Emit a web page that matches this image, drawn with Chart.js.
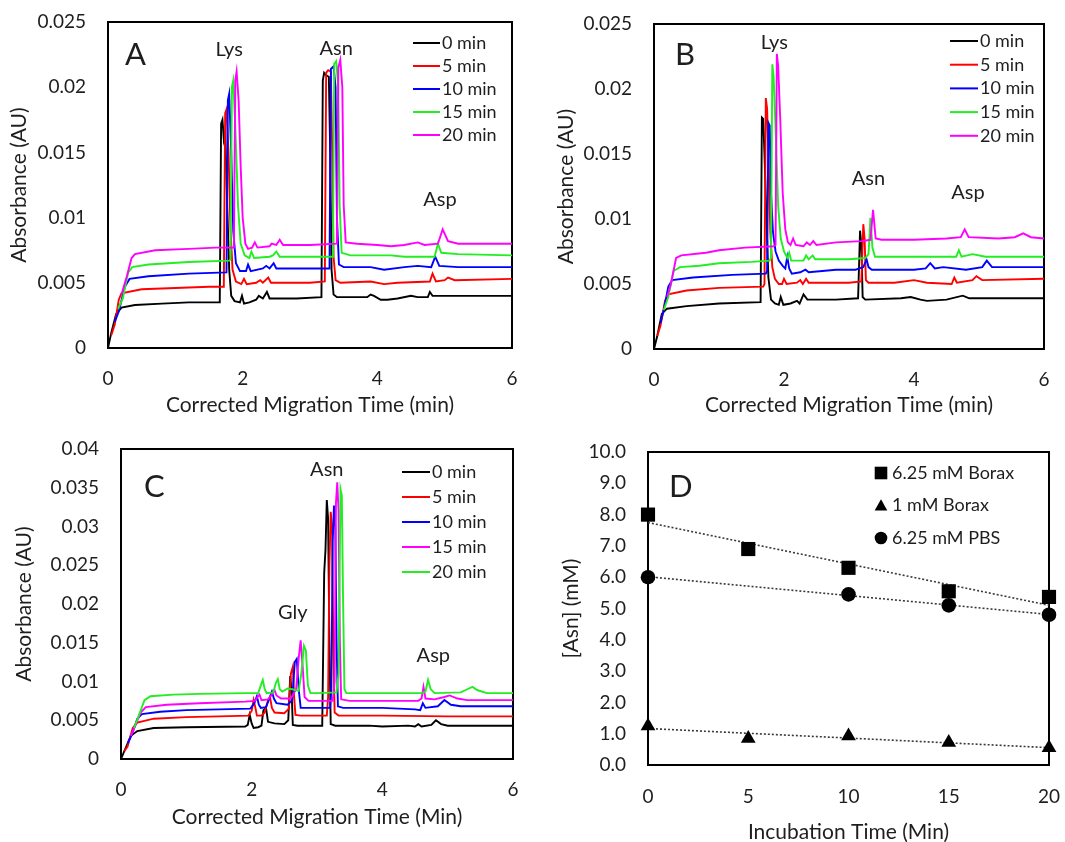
<!DOCTYPE html>
<html>
<head>
<meta charset="utf-8">
<title>Asn deamidation electropherograms</title>
<script src="https://cdn.jsdelivr.net/npm/chart.js"></script>
<style>
  body { margin: 0; background: #fff; }
  #wrap { position: relative; width: 1065px; height: 842px; overflow: hidden; }
  canvas { position: absolute; }
</style>
</head>
<body>
<div id="wrap">
  <canvas id="panelA" width="530" height="420" style="left:0;top:0"></canvas>
  <canvas id="panelB" width="535" height="420" style="left:530px;top:0"></canvas>
  <canvas id="panelC" width="530" height="422" style="left:0;top:420px"></canvas>
  <canvas id="panelD" width="535" height="422" style="left:530px;top:420px"></canvas>
</div>
<script>
// ---- data: [migration time (min), absorbance (AU)] ----
const runLabels = ['0 min', '5 min', '10 min', '15 min', '20 min'];

// A: 6.25 mM borax
const a0 = [[0,0],[0.05,0.0012],[0.12,0.0026],[0.2,0.0031],[0.4,0.0033],[0.8,0.0034],[1.2,0.0035],[1.66,0.0035],[1.68,0.0172],[1.70,0.0175],[1.72,0.0160],[1.74,0.0165],[1.77,0.0110],[1.80,0.0060],[1.83,0.0040],[1.88,0.0036],[1.96,0.0035],[1.99,0.0040],[2.02,0.0034],[2.1,0.0035],[2.2,0.0037],[2.24,0.0040],[2.3,0.0038],[2.36,0.0043],[2.4,0.0038],[2.8,0.0038],[3.17,0.0039],[3.19,0.0205],[3.21,0.0211],[3.24,0.0209],[3.28,0.0208],[3.30,0.0150],[3.32,0.0060],[3.35,0.0041],[3.4,0.0039],[3.85,0.0039],[3.9,0.0041],[3.95,0.0040],[4.05,0.0037],[4.15,0.0037],[4.3,0.0038],[4.5,0.0040],[4.6,0.0039],[4.75,0.0039],[4.78,0.0043],[4.82,0.0040],[5.2,0.0040],[6,0.0040]];
const a5 = [[0.05,0.0010],[0.1,0.0018],[0.16,0.0037],[0.2,0.0042],[0.5,0.0045],[1.0,0.0046],[1.5,0.0047],[1.72,0.0047],[1.74,0.0180],[1.76,0.0183],[1.79,0.0150],[1.82,0.0090],[1.85,0.0060],[1.9,0.0051],[1.98,0.0049],[2.02,0.0053],[2.06,0.0049],[2.2,0.0050],[2.26,0.0052],[2.3,0.0050],[2.38,0.0054],[2.42,0.0050],[3.0,0.0050],[3.22,0.0051],[3.24,0.0211],[3.27,0.0213],[3.31,0.0212],[3.33,0.0150],[3.35,0.0070],[3.38,0.0052],[3.45,0.0050],[3.9,0.0051],[4.1,0.0049],[4.3,0.0050],[4.78,0.0051],[4.82,0.0057],[4.87,0.0051],[5.0,0.0052],[5.05,0.0054],[5.15,0.0052],[6.0,0.0053]];
const a10 = [[0.1,0.0020],[0.16,0.0028],[0.25,0.0047],[0.32,0.0053],[0.6,0.0055],[1.2,0.0057],[1.76,0.0058],[1.78,0.0190],[1.80,0.0195],[1.83,0.0150],[1.86,0.0090],[1.9,0.0065],[1.96,0.0059],[2.05,0.0059],[2.08,0.0064],[2.12,0.0059],[2.3,0.0061],[2.35,0.0063],[2.4,0.0061],[2.46,0.0065],[2.5,0.0061],[3.0,0.0061],[3.29,0.0061],[3.31,0.0214],[3.35,0.0216],[3.38,0.0200],[3.40,0.0100],[3.43,0.0064],[3.5,0.0062],[3.9,0.0062],[4.1,0.0060],[4.4,0.0062],[4.6,0.0063],[4.8,0.0062],[4.86,0.0070],[4.92,0.0063],[5.2,0.0062],[6.0,0.0062]];
const a15 = [[0.15,0.0030],[0.22,0.0038],[0.3,0.0058],[0.36,0.0062],[0.6,0.0064],[1.2,0.0066],[1.8,0.0067],[1.82,0.0068],[1.84,0.0200],[1.86,0.0205],[1.89,0.0170],[1.93,0.0110],[1.97,0.0080],[2.03,0.0071],[2.1,0.0069],[2.13,0.0074],[2.17,0.0069],[2.4,0.0070],[2.45,0.0071],[2.5,0.0074],[2.55,0.0070],[3.0,0.0070],[3.34,0.0070],[3.36,0.0218],[3.39,0.0220],[3.42,0.0200],[3.44,0.0110],[3.47,0.0073],[3.6,0.0071],[4.2,0.0071],[4.4,0.0070],[4.85,0.0070],[4.9,0.0080],[4.95,0.0073],[5.2,0.0072],[6.0,0.0071]];
const a20 = [[0.2,0.0041],[0.28,0.0055],[0.35,0.0069],[0.4,0.0072],[0.7,0.0075],[1.2,0.0076],[1.6,0.0077],[1.87,0.0077],[1.89,0.0205],[1.91,0.0212],[1.94,0.0190],[1.97,0.0140],[2.0,0.0100],[2.04,0.0080],[2.08,0.0076],[2.14,0.0077],[2.18,0.0081],[2.22,0.0077],[2.4,0.0078],[2.43,0.0080],[2.5,0.0079],[2.55,0.0083],[2.6,0.0079],[3.0,0.0079],[3.4,0.0080],[3.42,0.0215],[3.45,0.0221],[3.48,0.0200],[3.50,0.0110],[3.53,0.0081],[3.7,0.0080],[4.0,0.0079],[4.2,0.0078],[4.4,0.0079],[4.6,0.0081],[4.7,0.0079],[4.9,0.0080],[4.97,0.0091],[5.05,0.0082],[5.2,0.0080],[6.0,0.0080]];

// B: 1 mM borax
const b0 = [[0,0],[0.05,0.0010],[0.12,0.0027],[0.2,0.0031],[0.5,0.0033],[1.0,0.0035],[1.64,0.0036],[1.66,0.0178],[1.68,0.0177],[1.70,0.0150],[1.73,0.0100],[1.76,0.0055],[1.80,0.0038],[1.86,0.0035],[1.92,0.0034],[1.95,0.0040],[1.99,0.0034],[2.1,0.0035],[2.2,0.0037],[2.24,0.0035],[2.3,0.0042],[2.36,0.0038],[2.8,0.0038],[3.14,0.0039],[3.17,0.0091],[3.19,0.0080],[3.21,0.0040],[3.25,0.0038],[3.8,0.0039],[3.95,0.0040],[4.1,0.0038],[4.2,0.0037],[4.5,0.0038],[4.75,0.0041],[4.85,0.0039],[6.0,0.0039]];
const b5 = [[0.05,0.0010],[0.1,0.0018],[0.17,0.0037],[0.22,0.0042],[0.5,0.0045],[1.0,0.0047],[1.68,0.0048],[1.70,0.0050],[1.72,0.0193],[1.74,0.0185],[1.76,0.0150],[1.79,0.0090],[1.82,0.0063],[1.86,0.0054],[1.92,0.0050],[1.97,0.0050],[2.0,0.0054],[2.04,0.0050],[2.2,0.0051],[2.25,0.0053],[2.29,0.0050],[2.34,0.0054],[2.38,0.0051],[3.0,0.0051],[3.19,0.0052],[3.22,0.0096],[3.24,0.0085],[3.26,0.0053],[3.3,0.0051],[3.7,0.0051],[4.0,0.0053],[4.2,0.0051],[4.58,0.0050],[4.62,0.0055],[4.66,0.0051],[4.9,0.0053],[4.96,0.0056],[5.05,0.0053],[6.0,0.0054]];
const b10 = [[0.1,0.0020],[0.15,0.0030],[0.22,0.0048],[0.28,0.0053],[0.6,0.0055],[1.2,0.0057],[1.72,0.0058],[1.74,0.0060],[1.76,0.0174],[1.78,0.0172],[1.80,0.0120],[1.83,0.0090],[1.87,0.0075],[1.92,0.0068],[1.98,0.0064],[2.02,0.0062],[2.05,0.0071],[2.08,0.0062],[2.12,0.0058],[2.25,0.0059],[2.33,0.0061],[2.38,0.0059],[2.8,0.0061],[3.1,0.0061],[3.22,0.0063],[3.27,0.0069],[3.3,0.0063],[3.35,0.0061],[4.0,0.0061],[4.18,0.0062],[4.25,0.0066],[4.32,0.0062],[4.45,0.0063],[4.8,0.0061],[5.05,0.0063],[5.12,0.0068],[5.2,0.0063],[6.0,0.0063]];
const b15 = [[0.15,0.0030],[0.22,0.0040],[0.3,0.0060],[0.4,0.0063],[0.7,0.0064],[1.0,0.0066],[1.5,0.0067],[1.78,0.0068],[1.80,0.0070],[1.82,0.0219],[1.84,0.0210],[1.87,0.0170],[1.91,0.0110],[1.95,0.0085],[2.0,0.0075],[2.05,0.0070],[2.08,0.0074],[2.11,0.0068],[2.3,0.0068],[2.34,0.0072],[2.38,0.0069],[2.44,0.0072],[2.48,0.0069],[3.0,0.0069],[3.25,0.0070],[3.3,0.0073],[3.33,0.0101],[3.36,0.0078],[3.4,0.0071],[4.0,0.0071],[4.65,0.0071],[4.69,0.0076],[4.73,0.0071],[4.9,0.0073],[5.1,0.0071],[6.0,0.0071]];
const b20 = [[0.2,0.0040],[0.26,0.0050],[0.34,0.0070],[0.42,0.0072],[0.8,0.0074],[1.0,0.0076],[1.4,0.0078],[1.84,0.0079],[1.87,0.0080],[1.89,0.0227],[1.91,0.0218],[1.94,0.0180],[1.98,0.0120],[2.02,0.0092],[2.06,0.0082],[2.1,0.0080],[2.14,0.0085],[2.18,0.0080],[2.3,0.0079],[2.35,0.0082],[2.4,0.0080],[2.45,0.0083],[2.5,0.0080],[2.8,0.0082],[3.2,0.0083],[3.33,0.0084],[3.37,0.0107],[3.41,0.0085],[3.5,0.0084],[4.0,0.0084],[4.5,0.0085],[4.72,0.0086],[4.78,0.0092],[4.84,0.0086],[5.3,0.0085],[5.55,0.0086],[5.68,0.0089],[5.8,0.0086],[6.0,0.0085]];

// C: 6.25 mM PBS
const c0 = [[0,0],[0.05,0.0010],[0.15,0.0030],[0.25,0.0036],[0.5,0.0040],[1.0,0.0041],[1.9,0.0042],[1.94,0.0044],[1.97,0.0057],[2.0,0.0046],[2.03,0.0040],[2.1,0.0041],[2.15,0.0043],[2.18,0.0063],[2.22,0.0066],[2.25,0.0048],[2.35,0.0046],[2.5,0.0045],[2.56,0.0050],[2.59,0.0107],[2.61,0.0090],[2.63,0.0044],[2.7,0.0043],[3.08,0.0043],[3.11,0.0240],[3.13,0.0270],[3.15,0.0334],[3.17,0.0310],[3.19,0.0150],[3.21,0.0045],[3.28,0.0043],[3.8,0.0043],[4.0,0.0042],[4.4,0.0043],[4.5,0.0042],[4.55,0.0045],[4.6,0.0042],[4.75,0.0044],[4.82,0.0050],[4.9,0.0045],[5.0,0.0043],[6.0,0.0043]];
const c5 = [[0.05,0.0010],[0.1,0.0016],[0.18,0.0040],[0.25,0.0047],[0.5,0.0052],[1.0,0.0054],[1.5,0.0055],[1.95,0.0056],[2.0,0.0062],[2.03,0.0076],[2.06,0.0065],[2.08,0.0056],[2.15,0.0056],[2.2,0.0060],[2.25,0.0076],[2.28,0.0080],[2.31,0.0066],[2.35,0.0060],[2.5,0.0059],[2.57,0.0065],[2.60,0.0110],[2.63,0.0119],[2.65,0.0080],[2.67,0.0057],[2.75,0.0056],[3.15,0.0056],[3.17,0.0080],[3.19,0.0250],[3.21,0.0319],[3.23,0.0300],[3.25,0.0150],[3.27,0.0060],[3.33,0.0056],[4.0,0.0056],[5.0,0.0055],[6.0,0.0055]];
const c10 = [[0.1,0.0020],[0.16,0.0030],[0.25,0.0052],[0.32,0.0058],[0.6,0.0061],[1.0,0.0063],[1.5,0.0064],[1.98,0.0065],[2.04,0.0072],[2.08,0.0081],[2.11,0.0070],[2.14,0.0066],[2.22,0.0067],[2.27,0.0078],[2.31,0.0087],[2.34,0.0078],[2.38,0.0072],[2.55,0.0070],[2.62,0.0076],[2.66,0.0125],[2.69,0.0129],[2.72,0.0090],[2.75,0.0066],[2.85,0.0066],[3.2,0.0066],[3.22,0.0090],[3.24,0.0280],[3.26,0.0327],[3.28,0.0300],[3.30,0.0150],[3.32,0.0068],[3.4,0.0066],[4.0,0.0066],[4.5,0.0064],[4.58,0.0063],[4.62,0.0072],[4.66,0.0066],[4.85,0.0068],[4.95,0.0076],[5.05,0.0070],[5.2,0.0068],[6.0,0.0068]];
const c15 = [[0.15,0.0030],[0.22,0.0043],[0.3,0.0060],[0.38,0.0067],[0.7,0.0070],[1.2,0.0072],[1.9,0.0074],[2.05,0.0075],[2.09,0.0080],[2.12,0.0083],[2.15,0.0076],[2.25,0.0077],[2.3,0.0082],[2.35,0.0089],[2.38,0.0082],[2.45,0.0078],[2.6,0.0078],[2.68,0.0090],[2.72,0.0130],[2.75,0.0153],[2.78,0.0120],[2.81,0.0080],[2.87,0.0075],[3.24,0.0075],[3.27,0.0100],[3.29,0.0330],[3.31,0.0357],[3.33,0.0320],[3.35,0.0150],[3.37,0.0077],[3.5,0.0075],[4.0,0.0075],[4.55,0.0075],[4.6,0.0078],[4.63,0.0093],[4.66,0.0078],[4.8,0.0077],[4.95,0.0080],[5.03,0.0082],[5.15,0.0078],[5.3,0.0076],[6.0,0.0076]];
const c20 = [[0.2,0.0040],[0.28,0.0058],[0.36,0.0076],[0.45,0.0081],[0.8,0.0083],[1.2,0.0084],[1.9,0.0085],[2.1,0.0085],[2.14,0.0095],[2.17,0.0102],[2.2,0.0090],[2.23,0.0085],[2.33,0.0086],[2.37,0.0098],[2.4,0.0103],[2.43,0.0090],[2.47,0.0087],[2.55,0.0091],[2.62,0.0090],[2.72,0.0088],[2.76,0.0110],[2.80,0.0146],[2.83,0.0140],[2.86,0.0095],[2.9,0.0085],[3.0,0.0085],[3.3,0.0086],[3.33,0.0110],[3.36,0.0348],[3.38,0.0340],[3.40,0.0200],[3.42,0.0090],[3.45,0.0085],[4.0,0.0085],[4.6,0.0085],[4.66,0.0087],[4.7,0.0102],[4.74,0.0090],[4.8,0.0085],[5.2,0.0086],[5.3,0.0090],[5.38,0.0093],[5.45,0.0089],[5.6,0.0085],[6.0,0.0085]];

// D: Asn remaining vs incubation time
const incubation = [0, 5, 10, 15, 20];
const boraxHigh = [8.0, 6.9, 6.3, 5.55, 5.37];
const boraxLow = [1.25, 0.85, 0.93, 0.72, 0.55];
const pbs = [6.0, null, 5.45, 5.1, 4.8];
const seriesD = ['6.25 mM Borax', '1 mM Borax', '6.25 mM PBS'];

const BLACK = '#000000', RED = '#ff0000', BLUE = '#0000ff', GREEN = '#22ee22', MAGENTA = '#ff00ff';
const TEXT = '#1e1e1e';
const FONT = "Lato, 'Open Sans', sans-serif";
const TITLE_SIZE = 21;

Chart.defaults.font.family = FONT;
Chart.defaults.color = TEXT;
Chart.defaults.animation = false;

// frame around the plot area
const framePlugin = {
  id: 'frame',
  beforeDatasetsDraw(chart) {
    const {ctx, chartArea: a} = chart;
    ctx.save();
    ctx.strokeStyle = '#000';
    ctx.lineWidth = 2;
    ctx.strokeRect(a.left, a.top, a.right - a.left, a.bottom - a.top);
    ctx.restore();
  }
};

// panel letter, peak names and the in-plot legend
const panelText = {
  id: 'panelText',
  afterDraw(chart, args, opts) {
    const {ctx, scales} = chart;
    ctx.save();
    ctx.fillStyle = TEXT;
    ctx.font = '31px ' + FONT;
    ctx.textAlign = 'left';
    ctx.textBaseline = 'alphabetic';
    ctx.fillText(opts.letter.text, opts.letter.x, opts.letter.y);

    ctx.font = '20px ' + FONT;
    ctx.textAlign = 'center';
    ctx.textBaseline = 'middle';
    (opts.peaks || []).forEach(p => {
      ctx.fillText(p.text, scales.x.getPixelForValue(p.x), scales.y.getPixelForValue(p.y));
    });

    const lg = opts.legend;
    ctx.font = '18px ' + FONT;
    ctx.textAlign = 'left';
    chart.data.datasets.filter(d => !d.trend).forEach((d, i) => {
      const y = lg.y + i * lg.gap;
      if (lg.kind === 'marker') {
        ctx.fillStyle = '#000';
        const cx = lg.x, r = 6.3;
        ctx.beginPath();
        if (d.pointStyle === 'rect') ctx.rect(cx - r, y - r, 2 * r, 2 * r);
        else if (d.pointStyle === 'triangle') {
          ctx.moveTo(cx, y - r);
          ctx.lineTo(cx + r, y + r * 0.8);
          ctx.lineTo(cx - r, y + r * 0.8);
          ctx.closePath();
        } else ctx.arc(cx, y, r, 0, Math.PI * 2);
        ctx.fill();
        ctx.fillStyle = TEXT;
        ctx.fillText(d.label, lg.x + lg.len, y);
      } else {
        ctx.strokeStyle = d.borderColor;
        ctx.lineWidth = 2;
        ctx.beginPath();
        ctx.moveTo(lg.x, y);
        ctx.lineTo(lg.x + lg.len, y);
        ctx.stroke();
        ctx.fillStyle = TEXT;
        ctx.fillText(d.label, lg.x + lg.len + 2, y);
      }
    });
    ctx.restore();
  }
};

const absFormat = v => v === 0 ? '0' : String(+v.toFixed(3));

// fixed axis boxes so the plot areas line up; tick padding must not push the plot area
const fixY = w => s => { s.width = w; s.paddingTop = 0; s.paddingBottom = 0; };
const fixX = h => s => { s.height = h; s.paddingLeft = 0; s.paddingRight = 0; };

function traceChart(id, traces, colors, yMax, yStep, box, text) {
  return new Chart(document.getElementById(id), {
    type: 'line',
    data: {
      datasets: traces.map((t, i) => ({
        label: runLabels[i],
        data: t,
        borderColor: colors[i],
        borderWidth: 1.9,
        pointRadius: 0,
        tension: 0,
        order: traces.length - i
      }))
    },
    options: {
      responsive: false,
      devicePixelRatio: 1,
      layout: {padding: {left: 0, top: box.top, right: box.right, bottom: 0}},
      plugins: {legend: {display: false}, tooltip: {enabled: false}, panelText: text},
      scales: {
        x: {
          type: 'linear', min: 0, max: 6,
          grid: {display: false, drawTicks: false}, border: {display: false},
          ticks: {stepSize: 2, padding: 19, font: {size: 19}, color: TEXT, maxRotation: 0},
          title: {display: true, text: box.xTitle, font: {size: TITLE_SIZE}, color: TEXT, padding: {top: 0, bottom: box.xTitlePad}},
          afterFit: fixX(box.xHeight)
        },
        y: {
          min: 0, max: yMax,
          grid: {display: false, drawTicks: false}, border: {display: false},
          ticks: {stepSize: yStep, padding: 22, font: {size: 19}, color: TEXT, callback: absFormat},
          title: {display: true, text: 'Absorbance (AU)', font: {size: TITLE_SIZE}, color: TEXT, padding: {top: box.yTitlePad, bottom: 0}},
          afterFit: fixY(box.yWidth)
        }
      }
    },
    plugins: [framePlugin, panelText]
  });
}

traceChart('panelA', [a0, a5, a10, a15, a20], [BLACK, RED, BLUE, GREEN, MAGENTA], 0.025, 0.005,
  {top: 22, right: 18, yWidth: 108, xHeight: 72, yTitlePad: 7, xTitlePad: 2, xTitle: 'Corrected Migration Time (min)'},
  {letter: {text: 'A', x: 125, y: 65},
   peaks: [{text: 'Lys', x: 1.80, y: 0.0229}, {text: 'Asn', x: 3.39, y: 0.0230}, {text: 'Asp', x: 4.93, y: 0.01135}],
   legend: {x: 413, y: 43, gap: 23, len: 27}});

traceChart('panelB', [b0, b5, b10, b15, b20], [BLACK, RED, BLUE, GREEN, MAGENTA], 0.025, 0.005,
  {top: 24, right: 21, yWidth: 124, xHeight: 71, yTitlePad: 24, xTitlePad: 2, xTitle: 'Corrected Migration Time (min)'},
  {letter: {text: 'B', x: 145, y: 65},
   peaks: [{text: 'Lys', x: 1.85, y: 0.0236}, {text: 'Asn', x: 3.30, y: 0.01308}, {text: 'Asp', x: 4.83, y: 0.0120}],
   legend: {x: 420, y: 41, gap: 23.7, len: 28}});

traceChart('panelC', [c0, c5, c10, c15, c20], [BLACK, RED, BLUE, MAGENTA, GREEN], 0.04, 0.005,
  {top: 29, right: 17, yWidth: 121, xHeight: 83, yTitlePad: 12, xTitlePad: 12, xTitle: 'Corrected Migration Time (Min)'},
  {letter: {text: 'C', x: 144, y: 77},
   peaks: [{text: 'Asn', x: 3.15, y: 0.0374}, {text: 'Gly', x: 2.63, y: 0.01884}, {text: 'Asp', x: 4.78, y: 0.01329}],
   legend: {x: 402, y: 52, gap: 25, len: 28}});

// least-squares trend line between the first and last incubation times
function trendLine(xs, ys) {
  const pts = xs.map((x, i) => [x, ys[i]]).filter(p => p[1] !== null);
  const n = pts.length;
  const mx = pts.reduce((s, p) => s + p[0], 0) / n;
  const my = pts.reduce((s, p) => s + p[1], 0) / n;
  let sxy = 0, sxx = 0;
  pts.forEach(([x, y]) => { sxy += (x - mx) * (y - my); sxx += (x - mx) * (x - mx); });
  const slope = sxy / sxx, icpt = my - slope * mx;
  const x0 = xs[0], x1 = xs[xs.length - 1];
  return [{x: x0, y: icpt + slope * x0}, {x: x1, y: icpt + slope * x1}];
}

const toPoints = ys => incubation.map((x, i) => ({x, y: ys[i]})).filter(p => p.y !== null);

const markerSet = (label, ys, style, radius) => ({
  label, data: toPoints(ys), pointStyle: style, pointRadius: radius,
  backgroundColor: '#000', borderColor: '#000', borderWidth: 0, showLine: false, clip: false, order: 1
});
const trendSet = ys => ({
  trend: true, data: trendLine(incubation, ys), showLine: true, pointRadius: 0,
  borderColor: '#3a3a3a', borderWidth: 1.6, borderDash: [2, 2], clip: false, order: 2
});

new Chart(document.getElementById('panelD'), {
  type: 'scatter',
  data: {
    datasets: [
      markerSet(seriesD[0], boraxHigh, 'rect', 10),
      markerSet(seriesD[1], boraxLow, 'triangle', 8.5),
      markerSet(seriesD[2], pbs, 'circle', 7.3),
      trendSet(boraxHigh), trendSet(boraxLow), trendSet(pbs)
    ]
  },
  options: {
    responsive: false,
    devicePixelRatio: 1,
    layout: {padding: {left: 0, top: 32, right: 16, bottom: 0}},
    plugins: {legend: {display: false}, tooltip: {enabled: false},
      panelText: {letter: {text: 'D', x: 139, y: 77}, peaks: [], legend: {kind: 'marker', x: 351, y: 53, gap: 32.5, len: 11}}},
    scales: {
      x: {
        type: 'linear', min: 0, max: 20,
        grid: {display: false, drawTicks: false}, border: {display: false},
        ticks: {stepSize: 5, padding: 20, font: {size: 19}, color: TEXT, maxRotation: 0},
        title: {display: true, text: 'Incubation Time (Min)', font: {size: TITLE_SIZE}, color: TEXT, padding: {top: 0, bottom: -3}},
        afterFit: fixX(77)
      },
      y: {
        min: 0, max: 10,
        grid: {display: false, drawTicks: false}, border: {display: false},
        ticks: {stepSize: 1, padding: 22, font: {size: 19}, color: TEXT, callback: v => v.toFixed(1)},
        title: {display: true, text: '[Asn] (mM)', font: {size: TITLE_SIZE}, color: TEXT, padding: {top: 29, bottom: 0}},
        afterFit: fixY(118)
      }
    }
  },
  plugins: [framePlugin, panelText]
});
</script>
</body>
</html>
